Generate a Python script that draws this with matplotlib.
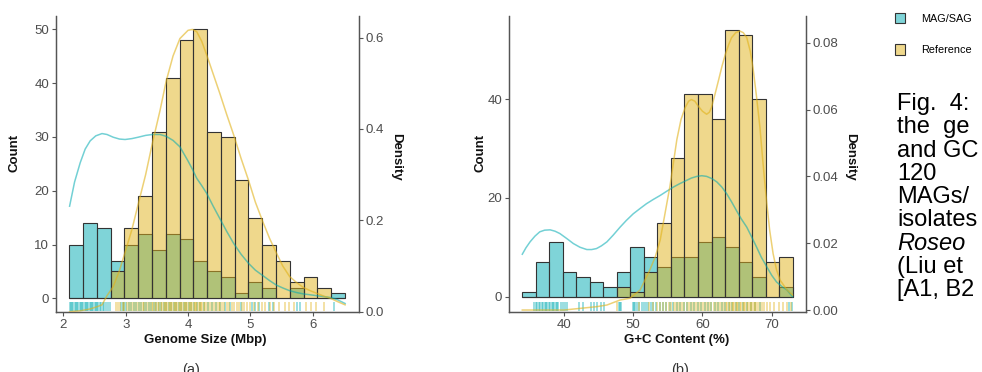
import numpy as np
import matplotlib.pyplot as plt
from matplotlib.patches import Patch

plt.rcParams['font.family'] = ['Liberation Sans', 'DejaVu Sans']

# ---- (a) genome size, 20 bins ----
gs_start = 2.096
gs_width = 0.221
gs_mag = [10, 14, 13, 7, 10, 12, 9, 12, 11, 7, 5, 4, 1, 3, 2, 0, 2, 0, 0, 1]
gs_ref = [0, 0, 0, 5, 13, 19, 31, 41, 48, 50, 31, 30, 22, 15, 10, 7, 3, 4, 2, 0]

# density curves
gs_kde_x = [2.10, 2.18, 2.27, 2.35, 2.43, 2.52, 2.62, 2.70, 2.80, 2.90, 2.99, 3.10, 3.20, 3.32,
            3.43, 3.55, 3.65, 3.76, 3.87, 4.00, 4.07, 4.14, 4.22, 4.30, 4.40, 4.51, 4.62, 4.73,
            4.85, 4.97, 5.08, 5.20, 5.31, 5.42, 5.52, 5.63, 5.74, 5.85, 5.96, 6.07, 6.18, 6.29,
            6.40, 6.52]
gs_kde_mag = [0.231, 0.284, 0.326, 0.356, 0.374, 0.385, 0.390, 0.388, 0.382, 0.378, 0.377, 0.379,
              0.382, 0.386, 0.388, 0.388, 0.384, 0.375, 0.361, 0.330, 0.312, 0.292, 0.276, 0.259,
              0.232, 0.204, 0.176, 0.150, 0.126, 0.106, 0.091, 0.079, 0.068, 0.058, 0.052, 0.046,
              0.042, 0.039, 0.037, 0.035, 0.033, 0.031, 0.026, 0.018]
gs_kde_ref = [0.000, 0.001, 0.002, 0.004, 0.006, 0.010, 0.015, 0.035, 0.055, 0.090, 0.130, 0.180,
              0.235, 0.300, 0.370, 0.440, 0.505, 0.560, 0.598, 0.616, 0.618, 0.613, 0.592, 0.562,
              0.522, 0.478, 0.432, 0.388, 0.336, 0.288, 0.240, 0.197, 0.160, 0.128, 0.100, 0.077,
              0.064, 0.053, 0.046, 0.040, 0.034, 0.029, 0.022, 0.015]

gs_rug_mag = [2.10, 2.12, 2.14, 2.16, 2.18, 2.20, 2.22, 2.24, 2.26, 2.28, 2.30, 2.32, 2.34, 2.36,
              2.38, 2.40, 2.42, 2.44, 2.46, 2.48, 2.50, 2.52, 2.54, 2.56, 2.58, 2.60, 2.63, 2.66,
              2.69, 2.72, 2.75, 2.92, 2.95, 2.98, 3.01, 3.05, 3.09, 3.13, 3.17, 3.21, 3.25, 3.29,
              3.33, 3.37, 3.41, 3.45, 3.49, 3.53, 3.57, 3.61, 3.65, 3.69, 3.73, 3.77, 3.81, 3.85,
              3.89, 3.93, 3.97, 4.01, 4.05, 4.10, 4.15, 4.20, 4.26, 4.32, 4.38, 4.45, 4.52, 4.60,
              4.68, 4.85, 5.02, 5.08, 5.14, 5.30, 5.36, 5.75, 5.80, 6.34]
gs_rug_ref = [2.84, 2.88, 2.91, 2.95, 2.98, 3.02, 3.05, 3.08, 3.12, 3.15, 3.18, 3.21, 3.24, 3.27,
              3.30, 3.33, 3.36, 3.39, 3.42, 3.44, 3.47, 3.49, 3.52, 3.54, 3.57, 3.59, 3.61, 3.63,
              3.65, 3.67, 3.69, 3.71, 3.73, 3.75, 3.77, 3.79, 3.81, 3.83, 3.85, 3.87, 3.89, 3.91,
              3.93, 3.95, 3.97, 3.99, 4.01, 4.03, 4.05, 4.07, 4.09, 4.11, 4.13, 4.15, 4.17, 4.19,
              4.21, 4.23, 4.25, 4.28, 4.31, 4.34, 4.37, 4.40, 4.43, 4.46, 4.49, 4.52, 4.55, 4.58,
              4.62, 4.66, 4.70, 4.74, 4.78, 4.82, 4.86, 4.90, 4.95, 5.00, 5.06, 5.12, 5.18, 5.24,
              5.31, 5.38, 5.46, 5.55, 5.62, 5.70, 5.90, 5.98, 6.05, 6.18]

# ---- (b) G+C content, 20 bins ----
gc_start = 33.98
gc_width = 1.952
gc_mag = [1, 7, 11, 5, 4, 3, 2, 5, 10, 8, 6, 8, 8, 11, 12, 10, 7, 4, 0, 2]
gc_ref = [0, 0, 0, 0, 0, 0, 0, 2, 1, 5, 15, 28, 41, 41, 36, 54, 53, 40, 7, 8]

gc_kde_mag_x = [33.98, 34.5, 35.1, 35.8, 36.5, 37.2, 38.0, 38.7, 39.4, 40.4, 41.35, 42.3, 43.3,
                44.0, 44.7, 45.4, 46.2, 47.1, 48.1, 49.0, 50.0, 51.0, 51.9, 52.9, 53.9, 54.8,
                55.8, 56.7, 57.7, 58.4, 59.2, 59.9, 60.6, 61.4, 62.1, 62.8, 63.5, 64.2, 64.9,
                65.6, 66.4, 67.1, 67.8, 68.5, 69.3, 70.0, 70.7, 71.5, 72.2, 73.0]
gc_kde_mag = [0.0167, 0.0186, 0.0204, 0.0221, 0.0234, 0.0239, 0.0240, 0.0236, 0.0229, 0.0214,
              0.0199, 0.0188, 0.0181, 0.0181, 0.0184, 0.0192, 0.0204, 0.0224, 0.0248, 0.0268,
              0.0288, 0.0304, 0.0318, 0.0331, 0.0343, 0.0355, 0.0368, 0.0378, 0.0388, 0.0395,
              0.0400, 0.0402, 0.0400, 0.0393, 0.0383, 0.0368, 0.0348, 0.0324, 0.0298, 0.0273,
              0.0248, 0.0219, 0.0189, 0.0158, 0.0129, 0.0104, 0.0084, 0.0070, 0.0060, 0.0040]
gc_kde_ref_x = [33.98, 40.0, 44.7, 46.2, 48.1, 49.5, 51.0, 52.4, 53.2, 53.9, 54.6, 55.3, 55.8,
                56.3, 56.9, 57.5, 58.0, 58.4, 58.9, 59.4, 60.0, 60.6, 61.0, 61.3, 61.8, 62.3,
                62.8, 63.3, 63.8, 64.2, 64.8, 65.4, 65.9, 66.4, 66.9, 67.3, 67.8, 68.3, 68.7,
                69.2, 69.7, 70.2, 70.7, 71.2, 72.2, 73.0]
gc_kde_ref = [0.0, 0.0, 0.001, 0.0015, 0.003, 0.0035, 0.006, 0.012, 0.016, 0.021, 0.029, 0.037,
              0.044, 0.051, 0.057, 0.0606, 0.0625, 0.063, 0.0625, 0.061, 0.0595, 0.0586, 0.0592,
              0.0606, 0.0645, 0.0686, 0.0728, 0.0765, 0.0795, 0.0815, 0.0830, 0.0835, 0.0830,
              0.0815, 0.0775, 0.0725, 0.0640, 0.0547, 0.0450, 0.0338, 0.0240, 0.0169, 0.0120,
              0.0090, 0.0060, 0.0045]

gc_rug_mag = [35.7, 35.9, 36.1, 36.4, 36.6, 36.8, 37.0, 37.2, 37.4, 37.6, 37.8, 38.0, 38.2, 38.4,
              38.6, 38.8, 39.0, 39.2, 39.5, 39.8, 40.1, 40.4, 42.2, 42.7, 43.9, 44.3, 44.8, 45.3,
              45.8, 47.9, 48.1, 48.3, 49.9, 50.1, 50.3, 50.6, 50.9, 51.2, 51.5, 51.8, 52.1, 52.5,
              52.9, 53.3, 53.8, 54.3, 54.8, 55.3, 55.8, 56.3, 56.8, 57.3, 57.8, 58.3, 58.8, 59.3,
              59.8, 60.3, 60.8, 61.3, 61.8, 62.3, 62.8, 63.3, 63.8, 64.3, 64.8, 65.3, 65.8, 66.4,
              67.0, 67.6, 68.3, 72.5, 72.9]
gc_rug_ref = [47.7, 50.8, 52.3, 52.9, 53.4, 53.9, 54.3, 54.7, 55.1, 55.5, 55.9, 56.2, 56.5, 56.8,
              57.1, 57.4, 57.7, 58.0, 58.3, 58.6, 58.9, 59.2, 59.5, 59.8, 60.1, 60.4, 60.7, 61.0,
              61.3, 61.6, 61.9, 62.2, 62.5, 62.8, 63.1, 63.4, 63.6, 63.8, 64.0, 64.2, 64.4, 64.6,
              64.8, 65.0, 65.2, 65.4, 65.6, 65.8, 66.0, 66.2, 66.4, 66.6, 66.8, 67.0, 67.2, 67.4,
              67.6, 67.8, 68.0, 68.3, 68.6, 68.9, 69.3, 69.8, 70.4, 71.0, 71.6, 72.2, 72.8]

caption = ['Fig.  4:', 'the  ge', 'and GC', '120', 'MAGs/', 'isolates', 'Roseo', '(Liu et', '[A1, B2']

TEAL = '#00AAB2'
GOLD = '#E1B21A'
TEAL_FILL = (0, 0.667, 0.698, 0.5)
GOLD_FILL = (0.882, 0.698, 0.102, 0.5)
EDGE = '#333333'
AXC = '#555555'
TXT = '#4d4d4d'

W, H = 982, 372
fig = plt.figure(figsize=(W / 100, H / 100), dpi=100)


def panel(rect, start, width, mag, ref, kmx, kmy, krx, kry, rmag, rref,
          xlim, ylim, dlim, xticks, yticks, dticks, dfmt):
    ax = fig.add_axes(rect)
    edges = start + width * np.arange(len(mag))
    ax.bar(edges, mag, width=width, align='edge', facecolor=TEAL_FILL,
           edgecolor=EDGE, linewidth=0.8, zorder=2)
    ax.bar(edges, ref, width=width, align='edge', facecolor=GOLD_FILL,
           edgecolor=EDGE, linewidth=0.8, zorder=3)
    # rug under the bars
    tr = ax.get_xaxis_transform()
    ax.vlines(rmag, 0.004, 0.034, transform=tr, colors=TEAL, alpha=0.5, lw=1.1, zorder=1)
    ax.vlines(rref, 0.004, 0.034, transform=tr, colors=GOLD, alpha=0.5, lw=1.1, zorder=1)
    ax.set_xlim(xlim)
    ax.set_ylim(ylim)
    ax.set_xticks(xticks)
    ax.set_yticks(yticks)

    axd = ax.twinx()
    axd.plot(kmx, kmy, color=TEAL, alpha=0.55, lw=1.1)
    axd.plot(krx, kry, color=GOLD, alpha=0.6, lw=1.1)
    axd.set_ylim(dlim)
    axd.set_yticks(dticks)
    axd.set_yticklabels([dfmt % v for v in dticks])

    for a in (ax, axd):
        a.spines['top'].set_visible(False)
        for s in ('left', 'right', 'bottom'):
            a.spines[s].set_color(AXC)
            a.spines[s].set_linewidth(0.9)
        a.tick_params(colors=AXC, labelcolor=TXT, labelsize=9.5, length=3, width=0.8, pad=2)
    return ax, axd


ax_a, axd_a = panel([56 / W, 1 - 311.7 / H, 303 / W, 295.7 / H],
                    gs_start, gs_width, gs_mag, gs_ref,
                    gs_kde_x, gs_kde_mag, gs_kde_x, gs_kde_ref, gs_rug_mag, gs_rug_ref,
                    (1.882, 6.743), (-2.48, 52.48), (0, 0.6474),
                    [2, 3, 4, 5, 6], [0, 10, 20, 30, 40, 50], [0, 0.2, 0.4, 0.6], '%.1f')
ax_b, axd_b = panel([509 / W, 1 - 311.7 / H, 296.7 / W, 295.7 / H],
                    gc_start, gc_width, gc_mag, gc_ref,
                    gc_kde_mag_x, gc_kde_mag, gc_kde_ref_x, gc_kde_ref, gc_rug_mag, gc_rug_ref,
                    (32.06, 74.91), (-3.03, 56.8), (-0.0005, 0.088),
                    [40, 50, 60, 70], [0, 20, 40], [0, 0.02, 0.04, 0.06, 0.08], '%.2f')

lab = dict(fontsize=9.5, fontweight='bold', ha='center', va='center', color='#111111')
fig.text(15 / W, 1 - 153 / H, 'Count', rotation=90, **lab)
fig.text(396 / W, 1 - 157 / H, 'Density', rotation=-90, **lab)
fig.text(205.7 / W, 1 - 340.5 / H, 'Genome Size (Mbp)', **lab)
fig.text(480.7 / W, 1 - 153 / H, 'Count', rotation=90, **lab)
fig.text(850 / W, 1 - 157 / H, 'Density', rotation=-90, **lab)
fig.text(676.7 / W, 1 - 340.5 / H, 'G+C Content (%)', **lab)
# sub-figure tags, cut by the bottom edge as in the page crop
fig.text(191.5 / W, 1 - 363 / H, '(a)', ha='center', va='top', fontsize=10.5, color='#333333')
fig.text(680 / W, 1 - 363 / H, '(b)', ha='center', va='top', fontsize=10.5, color='#333333')

handles = [Patch(facecolor=TEAL_FILL, edgecolor=EDGE, linewidth=0.8),
           Patch(facecolor=GOLD_FILL, edgecolor=EDGE, linewidth=0.8)]
fig.legend(handles, ['MAG/SAG', 'Reference'], loc='upper left',
           bbox_to_anchor=(895 / W, 1 - 13 / H), frameon=False, fontsize=7.8,
           handlelength=0.95, handleheight=1.1, handletextpad=1.5, labelspacing=1.9,
           borderpad=0, borderaxespad=0)

for i, line in enumerate(caption):
    fig.text(897 / W, 1 - (110 + 23.3 * i) / H, line, fontsize=17,
             style='italic' if i == 6 else 'normal', ha='left', va='baseline', color='black')

fig.savefig('out.png', dpi=100)
